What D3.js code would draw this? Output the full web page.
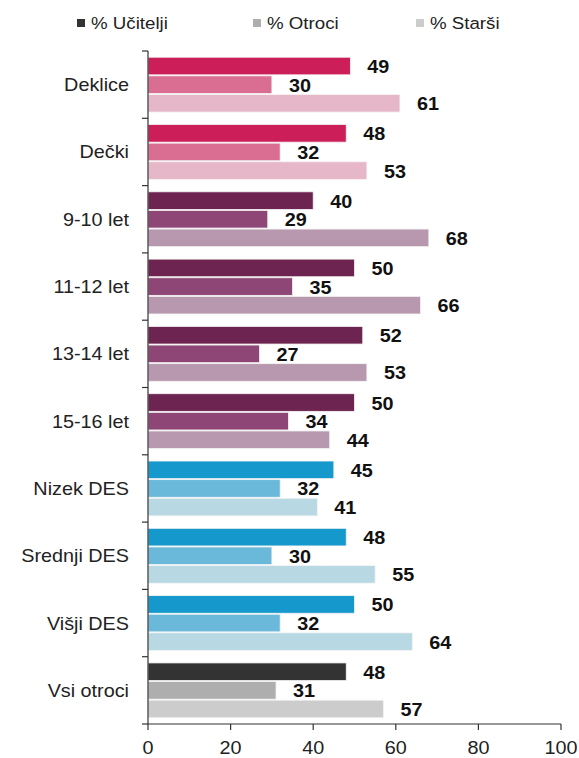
<!DOCTYPE html>
<html><head><meta charset="utf-8">
<script src="https://cdnjs.cloudflare.com/ajax/libs/d3/7.8.5/d3.min.js"></script>
<style>body{margin:0;background:#fff;} svg{display:block;} text{font-family:"Liberation Sans",Arial,Helvetica,sans-serif;}</style>
</head><body><svg id="c" width="579" height="758"></svg>
<script>
const categories = ["Deklice","Dečki","9-10 let","11-12 let","13-14 let","15-16 let","Nizek DES","Srednji DES","Višji DES","Vsi otroci"];
const seriesNames = ["% Učitelji","% Otroci","% Starši"];
const ucitelji = [49,48,40,50,52,50,45,48,50,48];
const otroci = [30,32,29,35,27,34,32,30,32,31];
const starsi = [61,53,68,66,53,44,41,55,64,57];
const xTicks = [0,20,40,60,80,100];
const groupKind = ["spol","spol","starost","starost","starost","starost","des","des","des","vsi"];
const palettes = {
  spol: ["#CC1F5A","#DA6E92","#E6B7C8"],
  starost: ["#6D2450","#8E4676","#B898AE"],
  des: ["#1599CC","#6BB9DA","#B8D8E3"],
  vsi: ["#333333","#AEAEAE","#CCCCCC"]
};
const legendColors = ["#333333","#AEAEAE","#CCCCCC"];
const legendX = [77, 253, 416];

(function(){
const series = [ucitelji, otroci, starsi];
const svg = d3.select("#c");
const SX = 1.1;
function stretchText(sel, x, y){ return sel.attr("transform", `translate(${x},${y}) scale(${SX},1)`); }

const yTop = 51, yBottom = 724;
const x = d3.scaleLinear().domain([0,100]).range([148,561]);
const y0 = d3.scaleBand().domain(categories).range([yTop,yBottom]).paddingInner(0.17).paddingOuter(0.085);
const y1 = d3.scaleBand().domain([0,1,2]).range([0, y0.bandwidth()]).padding(0);

categories.forEach((c,i)=>{
  const g = svg.append("g").attr("transform",`translate(0,${y0(c)})`);
  series.forEach((s,j)=>{
    g.append("rect")
      .attr("x", x(0)).attr("y", y1(j)+0.5)
      .attr("width", x(s[i])-x(0)).attr("height", y1.bandwidth()-1)
      .attr("fill", palettes[groupKind[i]][j])
      .attr("stroke", "#f4f4f4").attr("stroke-width", 0.8);
    const t = g.append("text").text(s[i])
      .attr("font-size", 18).attr("font-weight","bold").attr("fill","#111");
    stretchText(t, x(s[i])+17, y1(j)+y1.bandwidth()/2+7);
  });
});

const step = y0.step();
svg.append("line").attr("x1",148).attr("x2",148).attr("y1",yTop).attr("y2",yBottom).attr("stroke","#333").attr("stroke-width",1.2);
d3.range(categories.length+1).forEach(k=>{
  const yy = yTop + k*step;
  svg.append("line").attr("x1",142).attr("x2",148).attr("y1",yy).attr("y2",yy).attr("stroke","#333").attr("stroke-width",1.2);
});
categories.forEach(c=>{
  const t = svg.append("text").text(c).attr("font-size",18).attr("fill","#222").attr("text-anchor","end");
  stretchText(t, 129, y0(c)+y0.bandwidth()/2+6.5);
});

svg.append("line").attr("x1",x(0)).attr("x2",x(100)).attr("y1",yBottom).attr("y2",yBottom).attr("stroke","#333").attr("stroke-width",1.2);
xTicks.forEach(v=>{
  svg.append("line").attr("x1",x(v)).attr("x2",x(v)).attr("y1",yBottom).attr("y2",yBottom+6).attr("stroke","#333").attr("stroke-width",1.2);
  const t = svg.append("text").text(v).attr("font-size",18).attr("fill","#222").attr("text-anchor","middle");
  stretchText(t, x(v), 754);
});

seriesNames.forEach((n,i)=>{
  svg.append("rect").attr("x",legendX[i]).attr("y",19).attr("width",8).attr("height",8).attr("fill",legendColors[i]);
  const t = svg.append("text").text(n).attr("font-size",17).attr("fill","#222");
  stretchText(t, legendX[i]+14, 29);
});
})();
</script></body></html>
